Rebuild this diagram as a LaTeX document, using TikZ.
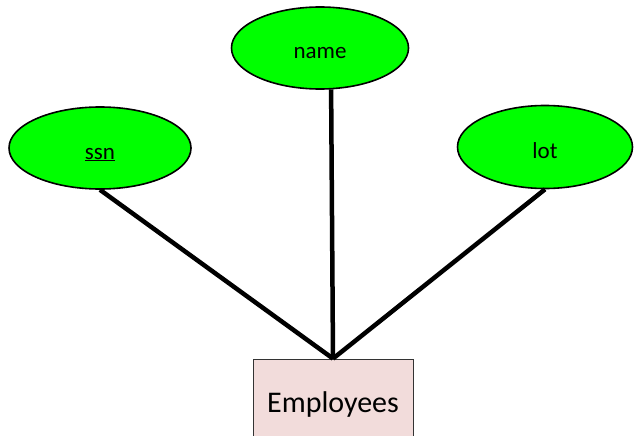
\documentclass[tikz,border=0pt]{standalone}
\usepackage{fontspec}
\setmainfont{Carlito}
\usepackage{xcolor}
\usetikzlibrary{shapes.geometric}
\definecolor{attrgreen}{RGB}{0,255,0}
\definecolor{entpink}{RGB}{242,220,219}

\begin{document}
\begin{tikzpicture}[x=1pt, y=-1pt,
  attr/.style={ellipse, draw=black, line width=1.6pt, fill=attrgreen, inner sep=0pt, text height=24pt, text depth=2pt, font=\fontsize{23}{27}\selectfont},
  ent/.style={rectangle, draw=black!80, line width=0.8pt, fill=entpink, minimum width=160pt, minimum height=90pt, inner sep=0pt, font=\fontsize{30}{35}\selectfont},
  link/.style={line width=4.5pt, black}
]
  \useasboundingbox (0,0) rectangle (634,436);
  \clip (0,0) rectangle (634,436);

  % Attributes
  \node[attr, minimum width=182pt, minimum height=82pt] (ssn) at (100,148) {\underline{ssn}};
  \node[attr, minimum width=177pt, minimum height=82pt] (name) at (320,48) {name};
  \node[attr, minimum width=175pt, minimum height=83pt] (lot) at (545,147) {lot};

  % Entity
  \node[ent] (emp) at (333,404) {Employees};

  % Links
  \draw[link] (ssn.south) -- (emp.north);
  \draw[link] (name.285) -- (emp.north);
  \draw[link] (lot.south) -- (emp.north);
\end{tikzpicture}
\end{document}
